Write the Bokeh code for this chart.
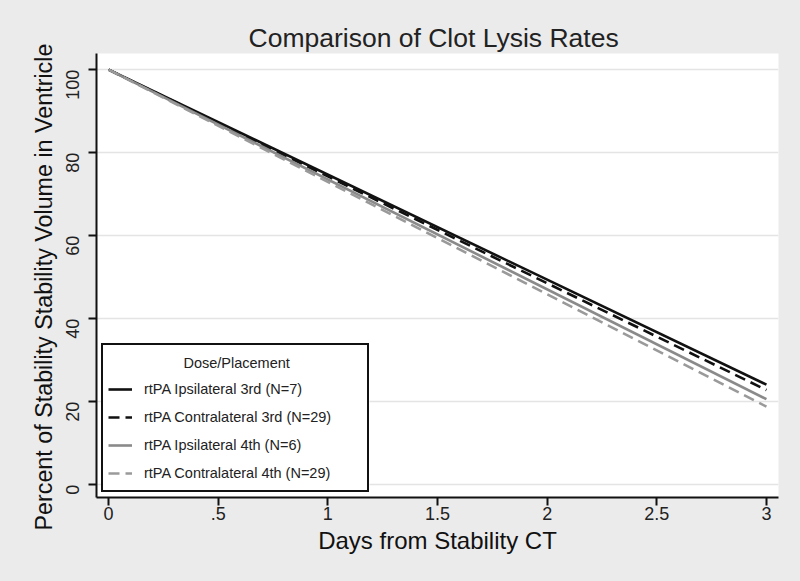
from bokeh.plotting import figure
from bokeh.models import Legend, LegendItem, FixedTicker, Range1d, Title
from bokeh.core.properties import value
from bokeh.embed import file_html
from bokeh.resources import INLINE
import math

# Data
days = [0, 3]
ipsi_3rd = [100, 24.1]
contra_3rd = [100, 22.8]
ipsi_4th = [100, 20.6]
contra_4th = [100, 18.8]
series_labels = ["rtPA Ipsilateral 3rd (N=7)", "rtPA Contralateral 3rd (N=29)",
                 "rtPA Ipsilateral 4th (N=6)", "rtPA Contralateral 4th (N=29)"]
legend_title = "Dose/Placement"
x_ticks = [0, 0.5, 1, 1.5, 2, 2.5, 3]
x_tick_labels = ["0", ".5", "1", "1.5", "2", "2.5", "3"]
y_ticks = [0, 20, 40, 60, 80, 100]

FONT = "Liberation Sans"
BG = "#ebebeb"

p = figure(width=800, height=581, output_backend="svg", toolbar_location=None,
           x_range=Range1d(-0.055, 3.055), y_range=Range1d(-3.1, 103.9),
           min_border_left=96, min_border_right=22, min_border_top=53, min_border_bottom=84,
           background_fill_color="white", border_fill_color=BG)
p.outline_line_color = None

p.title.text = "Comparison of Clot Lysis Rates"
p.title.align = "left"
p.title.offset = 152
p.title.text_font = FONT
p.title.text_font_size = "26.5px"
p.title.text_font_style = "normal"
p.title.text_color = "#222222"
p.title.standoff = 2

# axes
for ax in (p.xaxis[0], p.yaxis[0]):
    ax.axis_line_color = "#111111"
    ax.axis_line_width = 2
    ax.major_tick_line_color = "#111111"
    ax.major_tick_line_width = 2
    ax.major_tick_out = 8
    ax.major_tick_in = 0
    ax.minor_tick_line_color = None
    ax.major_label_text_font = FONT
    ax.major_label_text_font_size = "18px"
    ax.major_label_text_color = "#222222"
    ax.axis_label_text_font = FONT
    ax.axis_label_text_font_size = "24px"
    ax.axis_label_text_font_style = "normal"
    ax.axis_label_text_color = "#111111"

p.xaxis.ticker = FixedTicker(ticks=x_ticks)
p.xaxis.major_label_overrides = {t: l for t, l in zip(x_ticks, x_tick_labels)}
p.xaxis.axis_label = "Days from Stability CT"
p.xaxis.major_label_standoff = 1
p.xaxis.axis_label_standoff = 4

p.yaxis.ticker = FixedTicker(ticks=y_ticks)
p.yaxis.major_label_orientation = math.pi / 2
p.yaxis.major_label_standoff = 16

p.xgrid.grid_line_color = None
p.ygrid.ticker = FixedTicker(ticks=y_ticks)
p.ygrid.grid_line_color = "#e4e4e4"
p.ygrid.grid_line_width = 1.5

# white panel behind the legend (legend itself is transparent so its title text shows)
p.quad(left=[-0.025], right=[1.19], bottom=[-1.3], top=[33.4],
       fill_color="white", line_color=None)
p.text(x=[0.584], y=[29.4], text=[legend_title], text_align="center", text_baseline="middle",
       text_font=value(FONT), text_font_size="14.5px", text_color="#222222")

r1 = p.line(days, ipsi_3rd, line_color="#111111", line_width=2.6)
r2 = p.line(days, contra_3rd, line_color="#111111", line_width=2.6, line_dash="11 6")
r3 = p.line(days, ipsi_4th, line_color="#8a8a8a", line_width=2.6)
r4 = p.line(days, contra_4th, line_color="#9a9a9a", line_width=2.6, line_dash="11 6")

legend = Legend(items=[LegendItem(label=l, renderers=[r]) for l, r in zip(series_labels, [r1, r2, r3, r4])],
                location=(5, 5), title=" ")
legend.title_text_font = FONT
legend.title_text_font_size = "14.5px"
legend.title_standoff = 11
legend.label_text_font = FONT
legend.label_text_font_size = "14.5px"
legend.label_text_color = "#222222"
legend.glyph_width = 24
legend.glyph_height = 24
legend.label_height = 24
legend.label_width = 218
legend.label_standoff = 12
legend.spacing = 4
legend.padding = 5
legend.margin = 0
legend.border_line_color = "#111111"
legend.border_line_width = 2
legend.border_line_alpha = 1
legend.background_fill_alpha = 0
p.add_layout(legend, "center")

# y axis title
ytitle = Title(text="Percent of Stability Stability Volume in Ventricle", align="left",
               text_font=FONT, text_font_size="23.3px", text_font_style="normal",
               text_color="#111111", standoff=0, offset=-33)
p.add_layout(ytitle, "left")

html = file_html(p, INLINE, title="Comparison of Clot Lysis Rates")
html = html.replace("</head>", "<style>html, body { margin: 0 !important; background: %s !important; }</style></head>" % BG, 1)
open("out.html", "w").write(html)
